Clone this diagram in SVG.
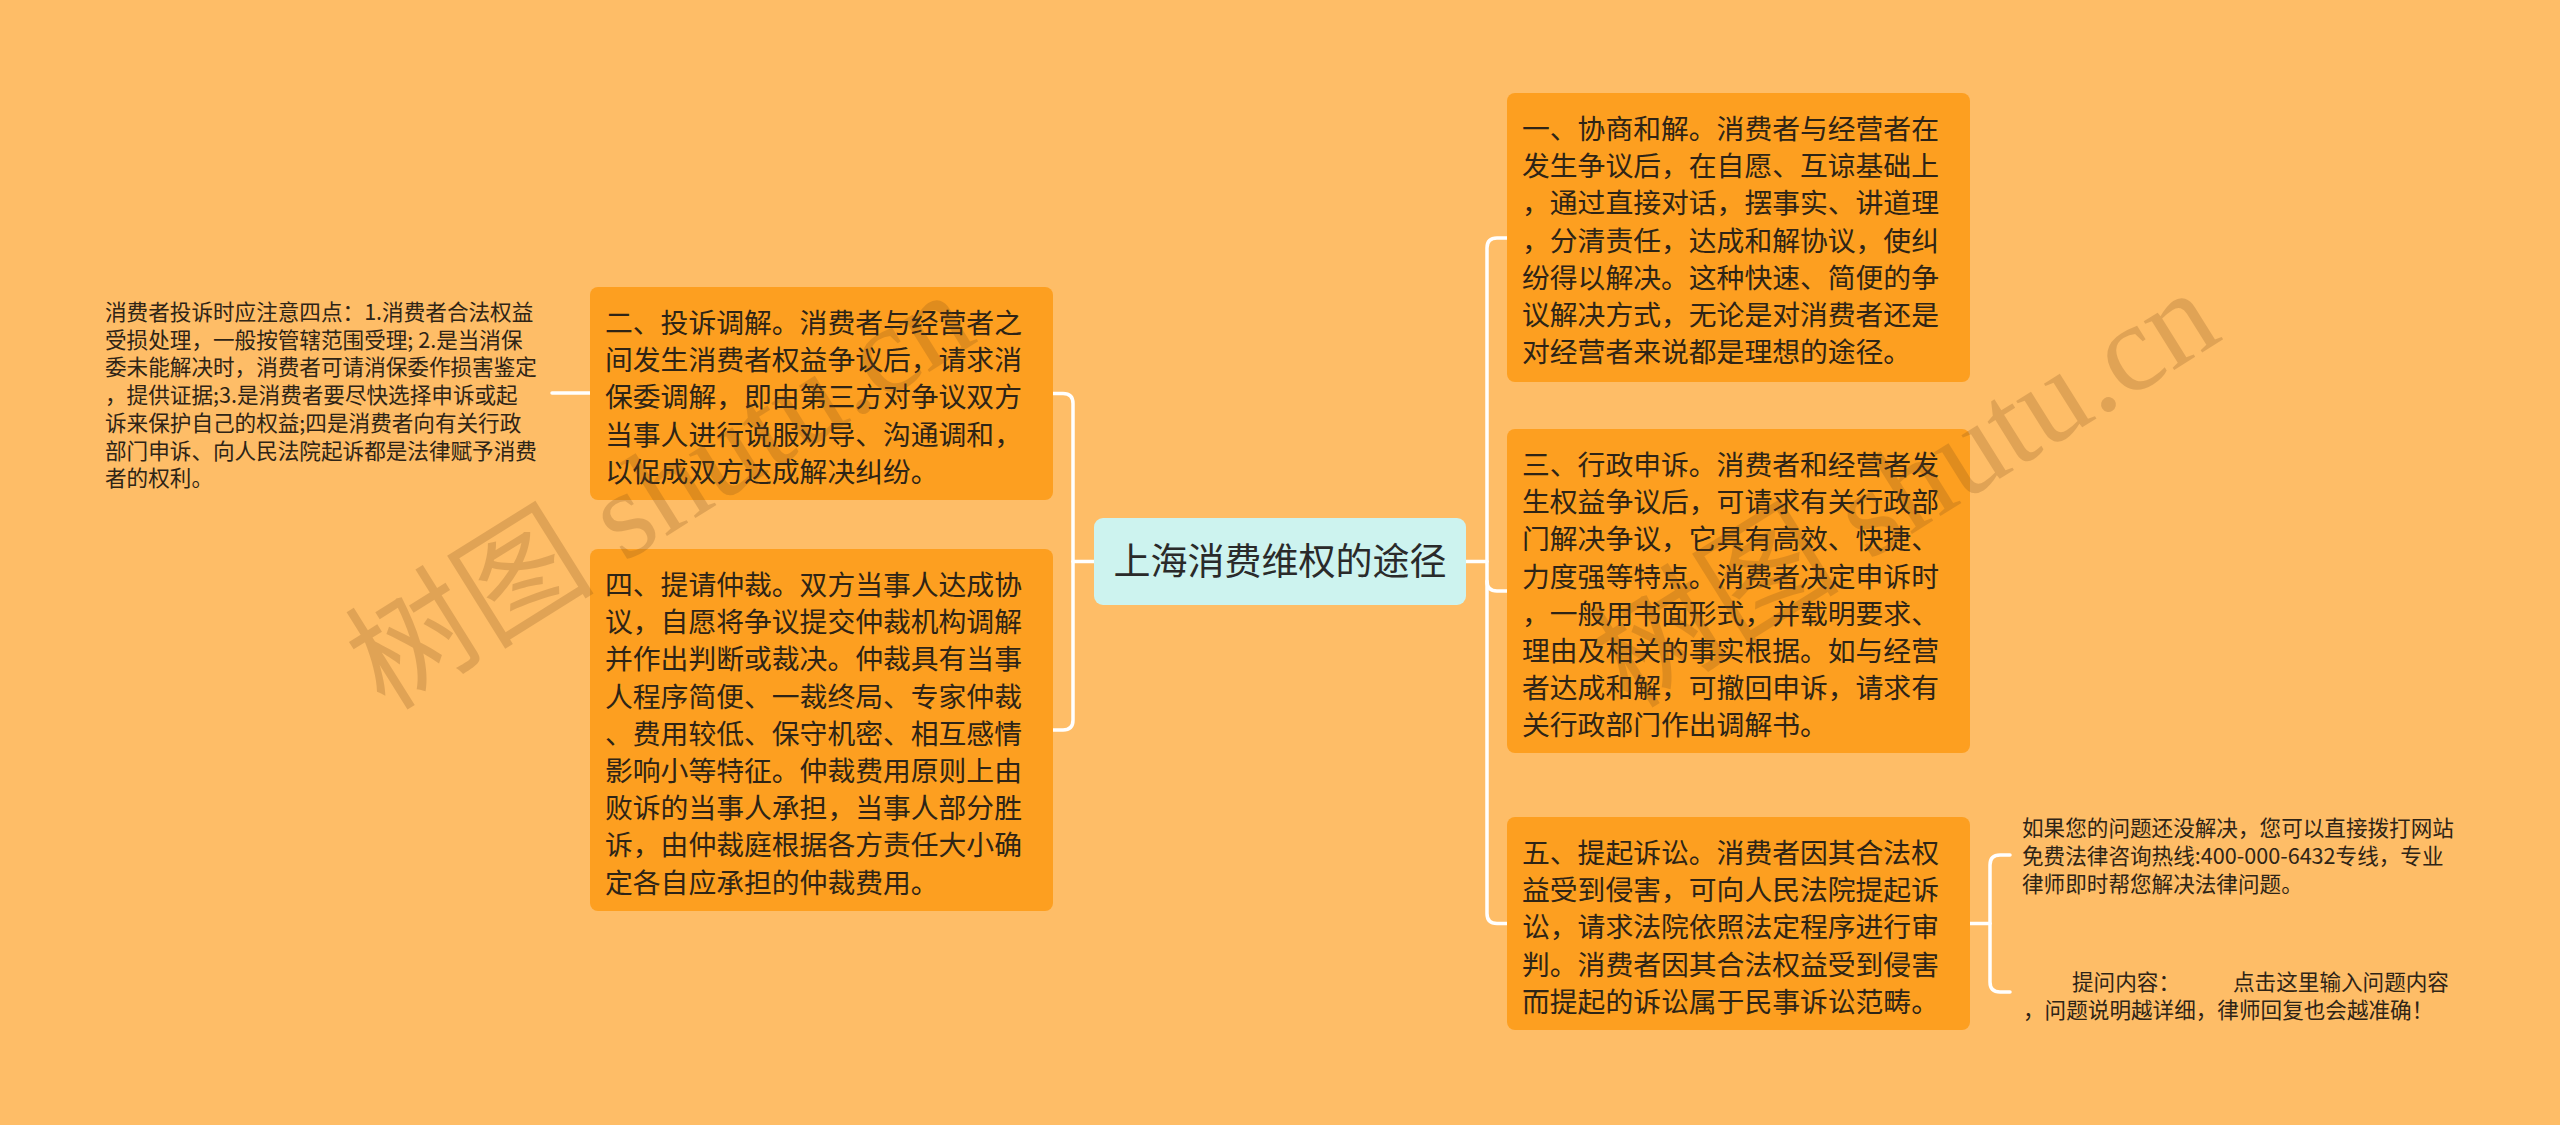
<svg xmlns="http://www.w3.org/2000/svg" width="2560" height="1125" viewBox="0 0 2560 1125">
<style>
.bg{fill:#FEBD67}
.node{fill:#FD9F20}
.center{fill:#CDF3EF}
.t{font-family:"Noto Sans CJK SC","Noto Sans",sans-serif;font-size:27.8px;fill:#2E2416}
.ct{font-family:"Noto Sans CJK SC","Noto Sans",sans-serif;font-size:37px;fill:#2A2A2A}
.note{font-family:"Noto Sans CJK SC","Noto Sans",sans-serif;font-size:21.6px;fill:#2E2416}
.conn{fill:none;stroke:#FFFFFF;stroke-width:3.5;stroke-linecap:round}
.wm{font-family:"Liberation Serif","Noto Sans CJK SC",serif;font-size:125px;fill:#7A4A1A;opacity:0.22}
</style>
<rect class="bg" x="0" y="0" width="2560" height="1125"/>
<g id="connectors">
<path class="conn" d="M1094,561.5 H1073"/>
<path class="conn" d="M1053,393.5 H1063 Q1073,393.5 1073,403.5 V720 Q1073,730 1063,730 H1053"/>
<path class="conn" d="M590,393 H552"/>
<path class="conn" d="M1466,561.5 H1487"/>
<path class="conn" d="M1507,238 H1497 Q1487,238 1487,248 V913.5 Q1487,923.5 1497,923.5 H1507"/>
<path class="conn" d="M1487,581 Q1487,591 1497,591 H1507"/>
<path class="conn" d="M1970,923.5 H1990"/>
<path class="conn" d="M2010,855 H2000 Q1990,855 1990,865 V982 Q1990,992 2000,992 H2010"/>
</g>
<g id="center">
<rect class="center" x="1094" y="518" width="372" height="87" rx="9"/>
<text class="ct" x="1280" y="575" text-anchor="middle">上海消费维权的途径</text>
</g>
<g id="node1">
<rect class="node" x="1507" y="93" width="463" height="289" rx="8"/>
<text class="t">
<tspan x="1522" y="139">一、协商和解。消费者与经营者在</tspan>
<tspan x="1522" y="176.2">发生争议后，在自愿、互谅基础上</tspan>
<tspan x="1522" y="213.4">，通过直接对话，摆事实、讲道理</tspan>
<tspan x="1522" y="250.6">，分清责任，达成和解协议，使纠</tspan>
<tspan x="1522" y="287.8">纷得以解决。这种快速、简便的争</tspan>
<tspan x="1522" y="325">议解决方式，无论是对消费者还是</tspan>
<tspan x="1522" y="362.2">对经营者来说都是理想的途径。</tspan>
</text>
</g>
<g id="node3">
<rect class="node" x="1507" y="429" width="463" height="324" rx="8"/>
<text class="t">
<tspan x="1522" y="475">三、行政申诉。消费者和经营者发</tspan>
<tspan x="1522" y="512.2">生权益争议后，可请求有关行政部</tspan>
<tspan x="1522" y="549.4">门解决争议，它具有高效、快捷、</tspan>
<tspan x="1522" y="586.6">力度强等特点。消费者决定申诉时</tspan>
<tspan x="1522" y="623.8">，一般用书面形式，并载明要求、</tspan>
<tspan x="1522" y="661">理由及相关的事实根据。如与经营</tspan>
<tspan x="1522" y="698.2">者达成和解，可撤回申诉，请求有</tspan>
<tspan x="1522" y="735.4">关行政部门作出调解书。</tspan>
</text>
</g>
<g id="node5">
<rect class="node" x="1507" y="817" width="463" height="213" rx="8"/>
<text class="t">
<tspan x="1522" y="863">五、提起诉讼。消费者因其合法权</tspan>
<tspan x="1522" y="900.2">益受到侵害，可向人民法院提起诉</tspan>
<tspan x="1522" y="937.4">讼，请求法院依照法定程序进行审</tspan>
<tspan x="1522" y="974.6">判。消费者因其合法权益受到侵害</tspan>
<tspan x="1522" y="1011.8">而提起的诉讼属于民事诉讼范畴。</tspan>
</text>
</g>
<g id="node2">
<rect class="node" x="590" y="287" width="463" height="213" rx="8"/>
<text class="t">
<tspan x="605" y="333">二、投诉调解。消费者与经营者之</tspan>
<tspan x="605" y="370.2">间发生消费者权益争议后，请求消</tspan>
<tspan x="605" y="407.4">保委调解，即由第三方对争议双方</tspan>
<tspan x="605" y="444.6">当事人进行说服劝导、沟通调和，</tspan>
<tspan x="605" y="481.8">以促成双方达成解决纠纷。</tspan>
</text>
</g>
<g id="node4">
<rect class="node" x="590" y="549" width="463" height="362" rx="8"/>
<text class="t">
<tspan x="605" y="595">四、提请仲裁。双方当事人达成协</tspan>
<tspan x="605" y="632.2">议，自愿将争议提交仲裁机构调解</tspan>
<tspan x="605" y="669.4">并作出判断或裁决。仲裁具有当事</tspan>
<tspan x="605" y="706.6">人程序简便、一裁终局、专家仲裁</tspan>
<tspan x="605" y="743.8">、费用较低、保守机密、相互感情</tspan>
<tspan x="605" y="781">影响小等特征。仲裁费用原则上由</tspan>
<tspan x="605" y="818.2">败诉的当事人承担，当事人部分胜</tspan>
<tspan x="605" y="855.4">诉，由仲裁庭根据各方责任大小确</tspan>
<tspan x="605" y="892.6">定各自应承担的仲裁费用。</tspan>
</text>
</g>
<g id="note-left">
<text class="note">
<tspan x="105" y="320">消费者投诉时应注意四点：1.消费者合法权益</tspan>
<tspan x="105" y="347.7">受损处理，一般按管辖范围受理; 2.是当消保</tspan>
<tspan x="105" y="375.4">委未能解决时，消费者可请消保委作损害鉴定</tspan>
<tspan x="105" y="403.1">，提供证据;3.是消费者要尽快选择申诉或起</tspan>
<tspan x="105" y="430.8">诉来保护自己的权益;四是消费者向有关行政</tspan>
<tspan x="105" y="458.5">部门申诉、向人民法院起诉都是法律赋予消费</tspan>
<tspan x="105" y="486.2">者的权利。</tspan>
</text>
</g>
<g id="note-hotline">
<text class="note">
<tspan x="2022" y="836">如果您的问题还没解决，您可以直接拨打网站</tspan>
<tspan x="2022" y="864">免费法律咨询热线:400-000-6432专线，专业</tspan>
<tspan x="2022" y="892">律师即时帮您解决法律问题。</tspan>
</text>
</g>
<g id="note-question">
<text class="note">
<tspan x="2072" y="990">提问内容：</tspan>
<tspan x="2233" y="990">点击这里输入问题内容</tspan>
<tspan x="2023" y="1018">，问题说明越详细，律师回复也会越准确！</tspan>
</text>
</g>
<g id="watermark">
<text class="wm" x="385" y="712" transform="rotate(-32 385 712)">树图 shutu.cn</text>
<text class="wm" x="1630" y="710" transform="rotate(-32 1630 710)">树图 shutu.cn</text>
</g>
</svg>
